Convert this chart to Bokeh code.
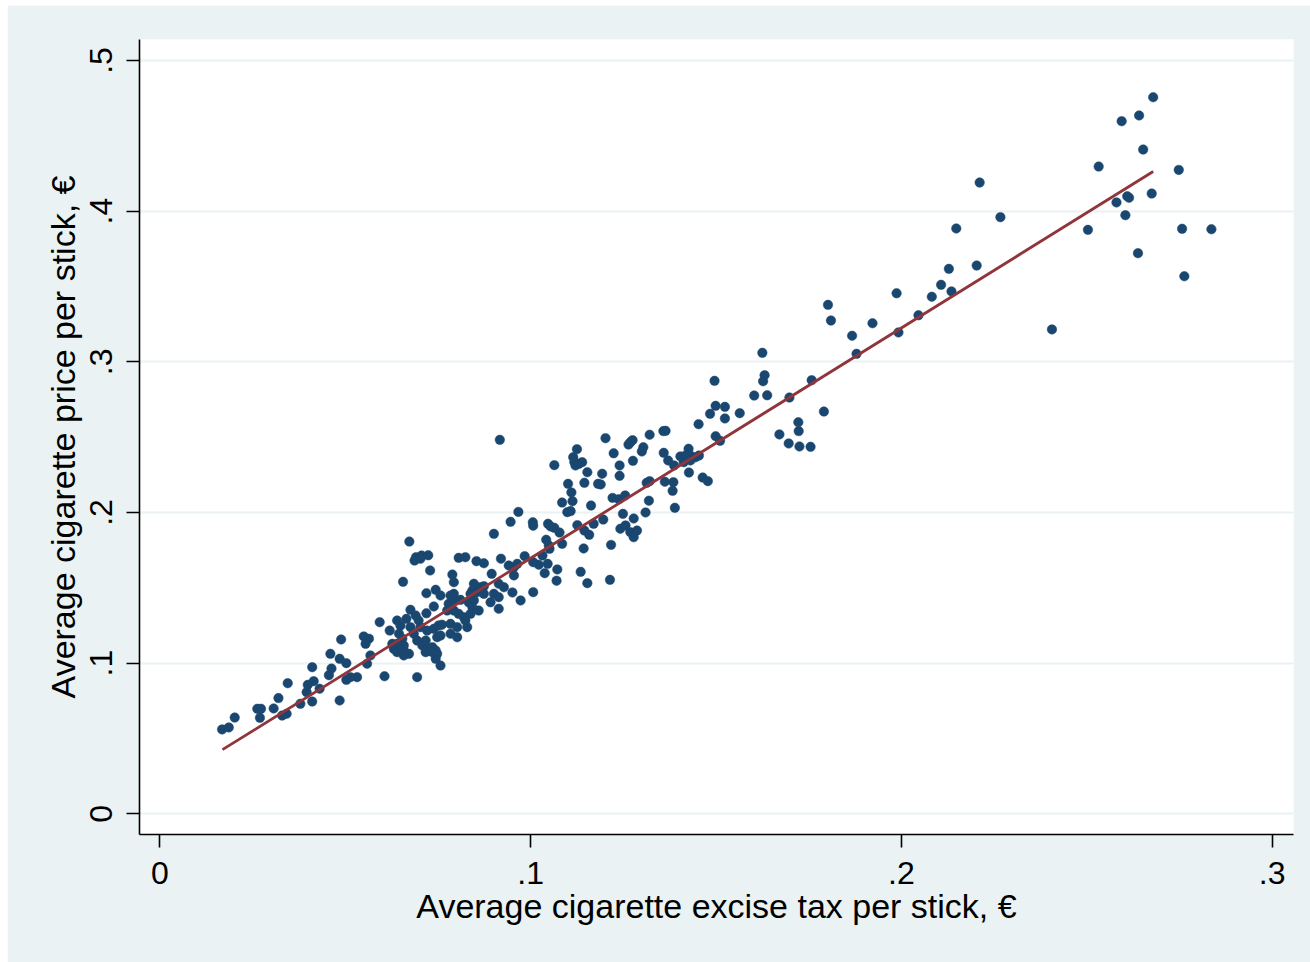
from bokeh.plotting import figure
from bokeh.models import Range1d, FixedTicker, CustomJSTickFormatter
from bokeh.embed import file_html
from bokeh.resources import INLINE

# ---- data (tax per stick, price per stick) ----
tax = [
    0.2679, 0.2641, 0.2594, 0.2652, 0.2532, 0.2748, 0.2675, 0.2609, 0.2614, 0.2580,
    0.2604, 0.2267, 0.2503, 0.2757, 0.2836, 0.2638, 0.2763, 0.2406,
    0.2211, 0.2148, 0.2128, 0.2203, 0.2107, 0.2082, 0.2135, 0.1987, 0.1802, 0.1810,
    0.1922, 0.1867, 0.2046, 0.1992, 0.1879, 0.1625, 0.1631, 0.1627, 0.1638, 0.1758,
    0.1698, 0.1791, 0.1722, 0.1723, 0.1671, 0.1696, 0.1725, 0.1755,
    0.1496, 0.1603, 0.1499, 0.1524, 0.1484, 0.1564, 0.1524, 0.1453, 0.1499, 0.1511,
    0.1358, 0.1364, 0.1321, 0.1202, 0.1275, 0.1269, 0.1264, 0.1304, 0.1300, 0.1224,
    0.1359, 0.1371, 0.1426, 0.1404, 0.1418, 0.1431, 0.1445, 0.1454, 0.1413, 0.1431,
    0.1276, 0.1387, 0.1240, 0.1427, 0.1193, 0.1240, 0.1464, 0.1478, 0.1362, 0.1385,
    0.1313, 0.1321, 0.1189, 0.1383, 0.1221, 0.1238, 0.1255, 0.1319, 0.1389, 0.1310,
    0.1249, 0.1196, 0.1278, 0.1242, 0.1256, 0.1269, 0.1287, 0.1278,
    0.0917, 0.1125, 0.1115, 0.1118, 0.1130, 0.1139, 0.1121, 0.1064, 0.1153, 0.1101,
    0.1145, 0.1182, 0.1110, 0.1113, 0.1085, 0.1163, 0.1099, 0.1108, 0.0967, 0.0946,
    0.1006, 0.1007, 0.1047, 0.1054, 0.1064, 0.1078, 0.1126, 0.1170, 0.1145, 0.1158,
    0.0901, 0.1042, 0.1049, 0.1051, 0.1085, 0.1217, 0.1143, 0.1032, 0.0984, 0.1007,
    0.1022, 0.0920, 0.0806, 0.0824, 0.0854, 0.0874, 0.0941, 0.0955, 0.0964, 0.1046,
    0.1072, 0.1038, 0.1135, 0.0955, 0.0895, 0.0789, 0.0793, 0.1070, 0.1153, 0.1214,
    0.0847, 0.0865, 0.0874, 0.0914, 0.0928, 0.1007, 0.0901, 0.0914, 0.0838, 0.0793,
    0.0673, 0.0691, 0.0687, 0.0706, 0.0724, 0.0703, 0.0729, 0.0656, 0.0843, 0.0856,
    0.0869, 0.0874, 0.0719, 0.0744, 0.0757, 0.0784, 0.0793, 0.0779, 0.0811, 0.0833,
    0.0847, 0.0843, 0.0892, 0.0914, 0.0676, 0.0719, 0.0739, 0.0775, 0.0793, 0.0806,
    0.0860, 0.0593, 0.0640, 0.0649, 0.0665, 0.0690, 0.0698, 0.0620, 0.0721, 0.0739,
    0.0752, 0.0784, 0.0802, 0.0824, 0.0829, 0.0676, 0.0685, 0.0645, 0.0654, 0.0640,
    0.0748, 0.0757, 0.0550, 0.0564, 0.0555, 0.0694, 0.0708, 0.0717, 0.0735, 0.0744,
    0.0627, 0.0631, 0.0640, 0.0658, 0.0672, 0.0658, 0.0717, 0.0735, 0.0744, 0.0757,
    0.0568, 0.0559, 0.0532, 0.0514, 0.0606, 0.0694,
    0.0761, 0.0820, 0.0838, 0.0784, 0.0802, 0.0721, 0.0748, 0.0658, 0.0703,
    0.0973, 0.0951,
    0.0489, 0.0460, 0.0485, 0.0503, 0.0411, 0.0463, 0.0456, 0.0345, 0.0399, 0.0415,
    0.0396, 0.0431, 0.0503, 0.0320, 0.0379, 0.0411, 0.0485, 0.0263, 0.0273, 0.0307,
    0.0270, 0.0330, 0.0342, 0.0202, 0.0168, 0.0186,
]
price = [
    0.4756, 0.4635, 0.4597, 0.4409, 0.4296, 0.4274, 0.4117, 0.4099, 0.4089, 0.4058,
    0.3973, 0.3960, 0.3876, 0.3883, 0.3880, 0.3721, 0.3568, 0.3215,
    0.4190, 0.3885, 0.3617, 0.3639, 0.3511, 0.3432, 0.3467, 0.3455, 0.3378, 0.3274,
    0.3256, 0.3173, 0.3309, 0.3195, 0.3053, 0.3060, 0.2911, 0.2871, 0.2778, 0.2878,
    0.2763, 0.2670, 0.2599, 0.2540, 0.2518, 0.2458, 0.2438, 0.2436,
    0.2874, 0.2776, 0.2708, 0.2701, 0.2655, 0.2659, 0.2624, 0.2586, 0.2506, 0.2476,
    0.2540, 0.2542, 0.2516, 0.2493, 0.2480, 0.2466, 0.2451, 0.2433, 0.2405, 0.2393,
    0.2396, 0.2345, 0.2423, 0.2372, 0.2378, 0.2378, 0.2367, 0.2378, 0.2334, 0.2345,
    0.2343, 0.2312, 0.2312, 0.2265, 0.2257, 0.2243, 0.2232, 0.2208, 0.2204, 0.2201,
    0.2197, 0.2208, 0.2186, 0.2144, 0.2097, 0.2088, 0.2113, 0.2078, 0.2031, 0.2000,
    0.1991, 0.1953, 0.1960, 0.1892, 0.1914, 0.1869, 0.1880, 0.1836,
    0.2482, 0.2420, 0.2367, 0.2334, 0.2323, 0.2334, 0.2312, 0.2314, 0.2267, 0.2190,
    0.2197, 0.2190, 0.2133, 0.2075, 0.2066, 0.2046, 0.2002, 0.2009, 0.2004, 0.1938,
    0.1935, 0.1912, 0.1925, 0.1907, 0.1898, 0.1867, 0.1916, 0.1925, 0.1880, 0.1852,
    0.1858, 0.1819, 0.1781, 0.1759, 0.1792, 0.1785, 0.1761, 0.1714, 0.1710, 0.1670,
    0.1653, 0.1693, 0.1699, 0.1703, 0.1677, 0.1663, 0.1648, 0.1637, 0.1659, 0.1659,
    0.1622, 0.1597, 0.1606, 0.1582, 0.1593, 0.1588, 0.1537, 0.1547, 0.1531, 0.1553,
    0.1527, 0.1504, 0.1511, 0.1527, 0.1504, 0.1471, 0.1460, 0.1438, 0.1460, 0.1460,
    0.1807, 0.1703, 0.1681, 0.1714, 0.1716, 0.1693, 0.1615, 0.1540, 0.1482, 0.1471,
    0.1493, 0.1460, 0.1464, 0.1487, 0.1449, 0.1449, 0.1416, 0.1394, 0.1420, 0.1404,
    0.1416, 0.1371, 0.1404, 0.1361, 0.1354, 0.1331, 0.1376, 0.1349, 0.1349, 0.1327,
    0.1349, 0.1272, 0.1283, 0.1249, 0.1294, 0.1316, 0.1283, 0.1216, 0.1216, 0.1228,
    0.1250, 0.1261, 0.1239, 0.1283, 0.1239, 0.1239, 0.1195, 0.1195, 0.1162, 0.1128,
    0.1172, 0.1183, 0.1177, 0.1162, 0.1128, 0.1150, 0.1117, 0.1150, 0.1106, 0.1084,
    0.1128, 0.1095, 0.1073, 0.1084, 0.1062, 0.1051, 0.1073, 0.1073, 0.1029, 0.0984,
    0.1051, 0.0996, 0.0907, 0.0907, 0.0913, 0.0907,
    0.1255, 0.1305, 0.1327, 0.1195, 0.1172, 0.1095, 0.1062, 0.1117, 0.1239,
    0.1416, 0.1469,
    0.1157, 0.1062, 0.1029, 0.1000, 0.0973, 0.0964, 0.0920, 0.0867, 0.0856, 0.0880,
    0.0807, 0.0830, 0.0889, 0.0768, 0.0730, 0.0745, 0.0752, 0.0697, 0.0697, 0.0699,
    0.0637, 0.0652, 0.0664, 0.0639, 0.0560, 0.0573,
]

# fitted line end points
fit_x = [0.0169, 0.2679]
fit_y = [0.0426, 0.4263]

x_ticks = [0, 0.1, 0.2, 0.3]
y_ticks = [0, 0.1, 0.2, 0.3, 0.4, 0.5]

x_title = "Average cigarette excise tax per stick, €"
y_title = "Average cigarette price per stick, €"

FONT = "Liberation Sans"
BG = "#eaf2f3"

p = figure(
    width=1303, height=957,
    output_backend="svg", toolbar_location=None,
    x_range=Range1d(-0.005475, 0.30574),
    y_range=Range1d(-0.01374, 0.51394),
    min_border_left=132, min_border_right=17,
    min_border_top=34, min_border_bottom=128,
    background_fill_color="white", border_fill_color=BG,
    outline_line_color=None,
    margin=(5, 0, 0, 7),
)

p.scatter(tax, price, size=9.5, fill_color="#1a476f", line_color="#1a476f", line_width=0.5)
p.line(fit_x, fit_y, line_color="#90353b", line_width=2.8)

fmt = CustomJSTickFormatter(code="return tick == 0 ? '0' : tick.toFixed(1).replace(/^0/, '');")

p.xgrid.visible = False
p.ygrid.grid_line_color = BG
p.ygrid.grid_line_width = 2
p.ygrid.ticker = FixedTicker(ticks=y_ticks)

for ax, ticks, title in ((p.xaxis[0], x_ticks, x_title), (p.yaxis[0], y_ticks, y_title)):
    ax.ticker = FixedTicker(ticks=ticks)
    ax.formatter = fmt
    ax.axis_label = title
    ax.axis_label_text_font = FONT
    ax.axis_label_text_font_size = "34px"
    ax.axis_label_text_font_style = "normal"
    ax.axis_label_text_color = "black"
    ax.major_label_text_font = FONT
    ax.major_label_text_font_size = "32px"
    ax.major_label_text_color = "black"
    ax.axis_line_color = "black"
    ax.axis_line_width = 1.6
    ax.major_tick_line_color = "black"
    ax.major_tick_line_width = 1.6
    ax.major_tick_out = 13
    ax.major_tick_in = 0
    ax.minor_tick_line_color = None

p.xaxis.major_label_standoff = 14
p.xaxis.axis_label_standoff = 0
p.yaxis.major_label_orientation = "vertical"
p.yaxis.major_label_standoff = 14
p.yaxis.axis_label_standoff = 6

open("out.html", "w").write(file_html(p, INLINE))
